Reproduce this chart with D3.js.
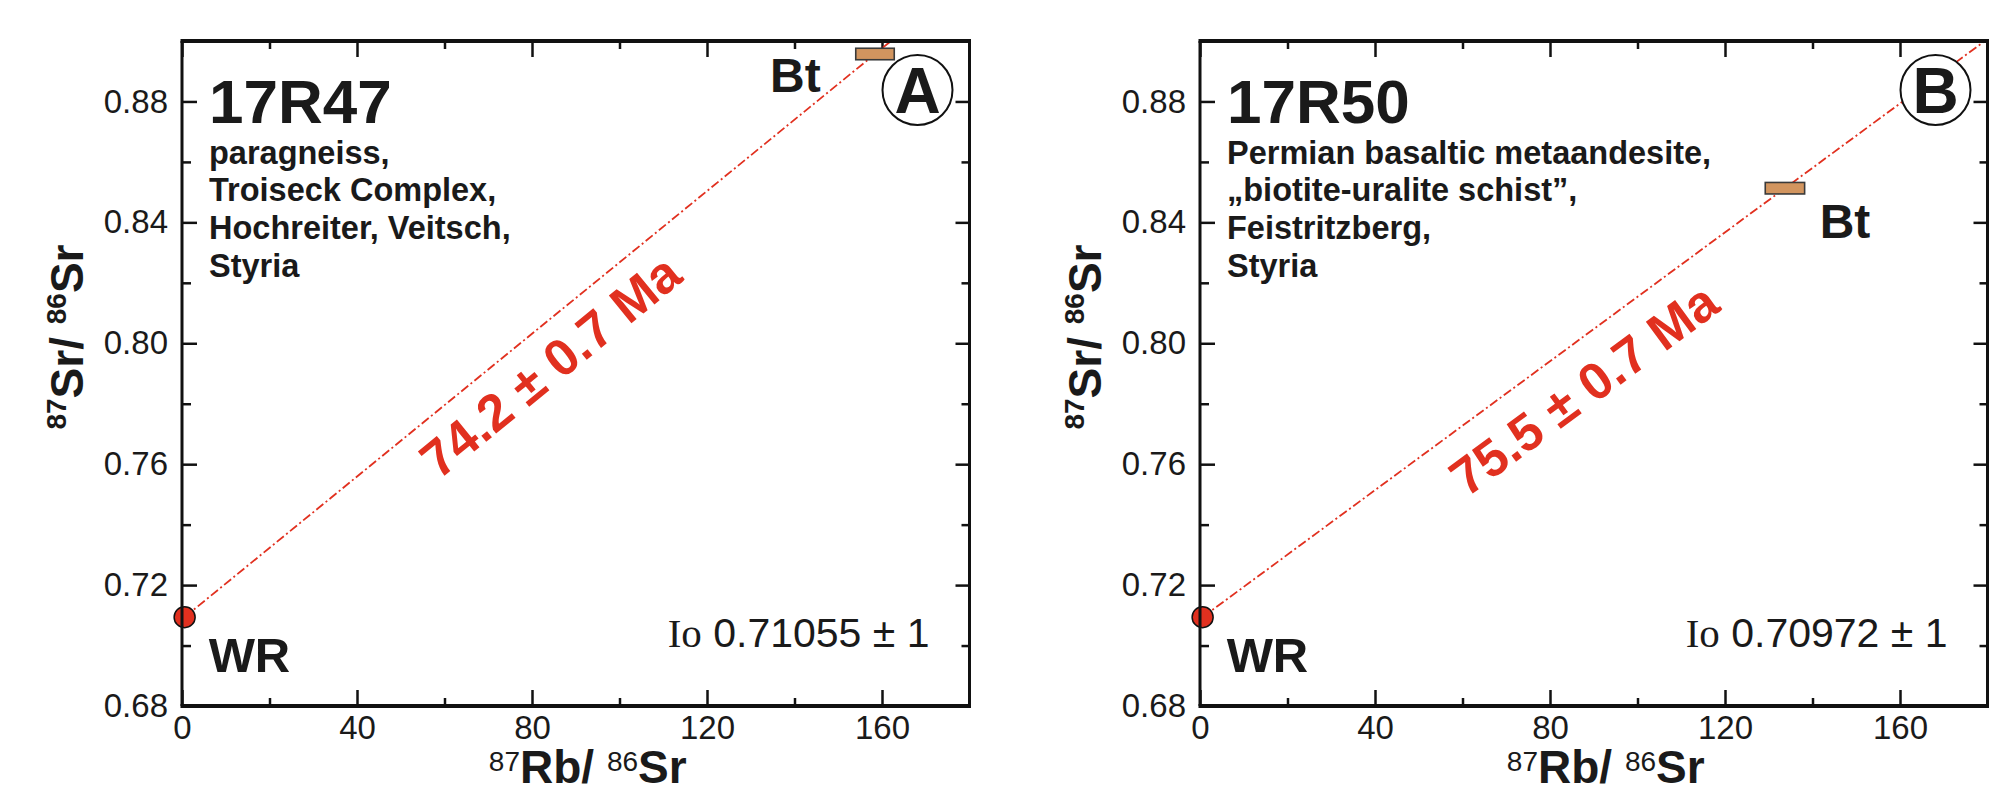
<!DOCTYPE html>
<html>
<head>
<meta charset="utf-8">
<script src="https://cdn.jsdelivr.net/npm/d3@7"></script>
<style>
  body { margin: 0; background: #fff; }
  svg { display: block; }
  text { font-family: "Liberation Sans", Arial, Helvetica, sans-serif; fill: #1a1a1a; }
</style>
</head>
<body>
<div id="chart"></div>
<script>
// sample data
const sampleIds = ['17R47', '17R50'];
const panelLetters = ['A', 'B'];
const rockNotes = [
  ['paragneiss,', 'Troiseck Complex,', 'Hochreiter, Veitsch,', 'Styria'],
  ['Permian basaltic metaandesite,', '\u201Ebiotite-uralite schist\u201D,', 'Feistritzberg,', 'Styria']
];
const wrRbSr = [0.6, 0.6];
const wrSrSr = [0.7094, 0.7094];
const btRbSr = [158.4, 133.7];
const btSrSr = [0.8957, 0.8513];
const btRbErr = [4.4, 4.5];
const btSrErr = [0.0019, 0.0019];
const isochronAges = ['74.2 \u00B1 0.7 Ma', '75.5 \u00B1 0.7 Ma'];
const initialRatios = ['0.71055 \u00B1 1', '0.70972 \u00B1 1'];

const xMajorTicks = [0, 40, 80, 120, 160];
const xMinorTicks = [20, 60, 100, 140];
const yMajorTicks = [0.68, 0.72, 0.76, 0.80, 0.84, 0.88];
const yMinorTicks = [0.70, 0.74, 0.78, 0.82, 0.86];

const W = 1990, H = 792;
const plotLefts = [182, 1200];
const plotTop = 41, plotW = 787.5, plotH = 665;
const red = '#e1301f';

const svg = d3.select('#chart').append('svg')
  .attr('width', W)
  .attr('height', H);

svg.append('rect').attr('width', W).attr('height', H).attr('fill', '#fff');

// per-panel placement of the "Bt" label and the age label
const btLabelPos = [
  { side: 'left', dx: -35, dy: 38 },
  { side: 'right', dx: 15, dy: 50 }
];
const ageLabelOffset = [36, 42];

function styleAxis(sel, labels) {
  sel.select('.domain').remove();
  sel.selectAll('.tick line').attr('stroke', '#111').attr('stroke-width', 2.5);
  if (labels) {
    sel.selectAll('.tick text')
      .attr('font-size', 33)
      .attr('font-family', '"Liberation Sans", Arial, sans-serif')
      .attr('fill', '#1a1a1a');
  } else {
    sel.selectAll('.tick text').remove();
  }
}

sampleIds.forEach((id, i) => {
  const g = svg.append('g').attr('transform', `translate(${plotLefts[i]},${plotTop})`);

  const x = d3.scaleLinear().domain([0, 180]).range([0, plotW]);
  const y = d3.scaleLinear().domain([0.68, 0.90]).range([plotH, 0]);

  // ticks, all pointing inwards
  g.append('g').attr('transform', `translate(0,${plotH})`)
    .call(d3.axisBottom(x).tickValues(xMajorTicks).tickSizeInner(-16).tickSizeOuter(0)
      .tickPadding(10).tickFormat(d3.format('d')))
    .call(s => styleAxis(s, true));
  g.append('g').attr('transform', `translate(0,${plotH})`)
    .call(d3.axisBottom(x).tickValues(xMinorTicks).tickSizeInner(-8).tickSizeOuter(0))
    .call(s => styleAxis(s, false));
  g.append('g')
    .call(d3.axisTop(x).tickValues(xMajorTicks).tickSizeInner(-16).tickSizeOuter(0))
    .call(s => styleAxis(s, false));
  g.append('g')
    .call(d3.axisTop(x).tickValues(xMinorTicks).tickSizeInner(-8).tickSizeOuter(0))
    .call(s => styleAxis(s, false));

  g.append('g')
    .call(d3.axisLeft(y).tickValues(yMajorTicks).tickSizeInner(-15).tickSizeOuter(0)
      .tickPadding(14).tickFormat(d3.format('.2f')))
    .call(s => styleAxis(s, true));
  g.append('g')
    .call(d3.axisLeft(y).tickValues(yMinorTicks).tickSizeInner(-9).tickSizeOuter(0))
    .call(s => styleAxis(s, false));
  g.append('g').attr('transform', `translate(${plotW},0)`)
    .call(d3.axisRight(y).tickValues(yMajorTicks).tickSizeInner(-14).tickSizeOuter(0))
    .call(s => styleAxis(s, false));
  g.append('g').attr('transform', `translate(${plotW},0)`)
    .call(d3.axisRight(y).tickValues(yMinorTicks).tickSizeInner(-8).tickSizeOuter(0))
    .call(s => styleAxis(s, false));

  // isochron line through WR and Bt, clipped to the plot
  const clipId = 'clip' + i;
  g.append('clipPath').attr('id', clipId)
    .append('rect').attr('width', plotW).attr('height', plotH);

  const slope = (btSrSr[i] - wrSrSr[i]) / (btRbSr[i] - wrRbSr[i]);
  const linePts = [
    [wrRbSr[i], wrSrSr[i]],
    [180, wrSrSr[i] + slope * (180 - wrRbSr[i])]
  ];
  g.append('path')
    .attr('clip-path', `url(#${clipId})`)
    .attr('d', d3.line().x(d => x(d[0])).y(d => y(d[1]))(linePts))
    .attr('fill', 'none')
    .attr('stroke', red)
    .attr('stroke-width', 1.8)
    .attr('stroke-dasharray', '9,3,2,3');

  // age label along the line
  const p0 = [x(wrRbSr[i]), y(wrSrSr[i])];
  const p1 = [x(btRbSr[i]), y(btSrSr[i])];
  const ang = Math.atan2(p1[1] - p0[1], p1[0] - p0[0]);
  const ux = Math.cos(ang), uy = Math.sin(ang);
  const along = 442, off = ageLabelOffset[i];
  const cx = p0[0] + ux * along - uy * off;
  const cy = p0[1] + uy * along + ux * off;
  g.append('text')
    .attr('transform', `translate(${cx},${cy}) rotate(${ang * 180 / Math.PI})`)
    .attr('text-anchor', 'middle')
    .attr('dy', '0.36em')
    .attr('font-size', 52)
    .attr('font-weight', 'bold')
    .style('fill', red)
    .text(isochronAges[i]);

  // Bt box
  g.append('rect')
    .attr('x', x(btRbSr[i] - btRbErr[i]))
    .attr('y', y(btSrSr[i] + btSrErr[i]))
    .attr('width', x(btRbSr[i] + btRbErr[i]) - x(btRbSr[i] - btRbErr[i]))
    .attr('height', y(btSrSr[i] - btSrErr[i]) - y(btSrSr[i] + btSrErr[i]))
    .attr('fill', '#d2955f')
    .attr('stroke', '#3a3a3a')
    .attr('stroke-width', 1.6);

  const bl = btLabelPos[i];
  g.append('text')
    .attr('x', bl.side === 'left' ? x(btRbSr[i] - btRbErr[i]) + bl.dx : x(btRbSr[i] + btRbErr[i]) + bl.dx)
    .attr('y', y(btSrSr[i]) + bl.dy)
    .attr('text-anchor', bl.side === 'left' ? 'end' : 'start')
    .attr('font-size', 48)
    .attr('font-weight', 'bold')
    .text('Bt');

  // WR point
  g.append('circle')
    .attr('cx', x(wrRbSr[i]))
    .attr('cy', y(wrSrSr[i]))
    .attr('r', 10.5)
    .attr('fill', red)
    .attr('stroke', '#111')
    .attr('stroke-width', 1.5);
  g.append('text')
    .attr('x', x(wrRbSr[i]) + 24)
    .attr('y', y(wrSrSr[i]) + 55)
    .attr('font-size', 49)
    .attr('font-weight', 'bold')
    .text('WR');

  // frame
  g.append('line').attr('x1', -1.5).attr('x2', plotW + 1.5).attr('y1', 0).attr('y2', 0)
    .attr('stroke', '#111').attr('stroke-width', 4);
  g.append('line').attr('x1', -1.5).attr('x2', plotW + 1.5).attr('y1', plotH).attr('y2', plotH)
    .attr('stroke', '#111').attr('stroke-width', 4);
  g.append('line').attr('x1', 0).attr('x2', 0).attr('y1', 0).attr('y2', plotH)
    .attr('stroke', '#111').attr('stroke-width', 3);
  g.append('line').attr('x1', plotW).attr('x2', plotW).attr('y1', 0).attr('y2', plotH)
    .attr('stroke', '#111').attr('stroke-width', 3);

  // sample name and description
  g.append('text')
    .attr('x', 27).attr('y', 82)
    .attr('font-size', 62).attr('font-weight', 'bold')
    .text(id);
  g.append('g').selectAll('text')
    .data(rockNotes[i])
    .join('text')
    .attr('x', 27)
    .attr('y', (d, k) => 122.5 + k * 37.8)
    .attr('font-size', 32.5)
    .attr('font-weight', 'bold')
    .text(d => d);

  // circled panel letter
  g.append('circle')
    .attr('cx', plotW - 52).attr('cy', 49).attr('r', 35)
    .attr('fill', '#fff').attr('stroke', '#111').attr('stroke-width', 2);
  g.append('text')
    .attr('x', plotW - 52).attr('y', 49)
    .attr('dy', '0.36em')
    .attr('text-anchor', 'middle')
    .attr('font-size', 64).attr('font-weight', 'bold')
    .text(panelLetters[i]);

  // initial ratio
  const io = g.append('text')
    .attr('x', plotW - 40).attr('y', 606)
    .attr('text-anchor', 'end')
    .attr('font-size', 41);
  io.append('tspan').attr('font-family', '"Liberation Serif", "Times New Roman", serif').text('Io');
  io.append('tspan').text(' ' + initialRatios[i]);

  // axis titles
  const xl = g.append('text')
    .attr('x', plotW / 2 + 12).attr('y', 742)
    .attr('text-anchor', 'middle')
    .attr('font-size', 46).attr('font-weight', 'bold');
  xl.append('tspan').attr('font-size', 28).attr('font-weight', 'normal').attr('dy', -12).text('87');
  xl.append('tspan').attr('dy', 12).text('Rb/ ');
  xl.append('tspan').attr('font-size', 28).attr('font-weight', 'normal').attr('dy', -12).text('86');
  xl.append('tspan').attr('dy', 12).text('Sr');

  const yl = g.append('text')
    .attr('transform', `translate(-99,${296}) rotate(-90)`)
    .attr('text-anchor', 'middle')
    .attr('font-size', 46).attr('font-weight', 'bold');
  yl.append('tspan').attr('font-size', 28).attr('dy', -17).text('87');
  yl.append('tspan').attr('dy', 17).text('Sr/ ');
  yl.append('tspan').attr('font-size', 28).attr('dy', -17).text('86');
  yl.append('tspan').attr('dy', 17).text('Sr');
});
</script>
</body>
</html>
